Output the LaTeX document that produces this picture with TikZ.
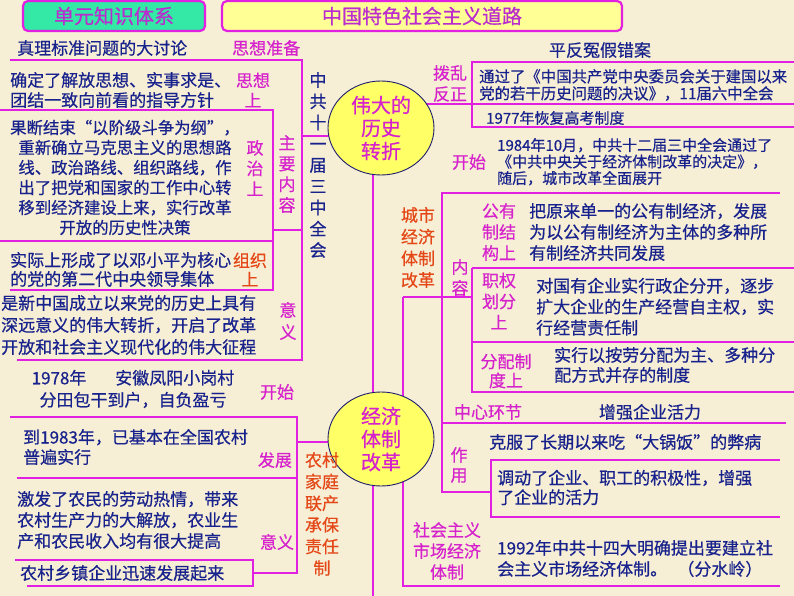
\documentclass[tikz,border=0pt]{standalone}
\usepackage{fontspec}
\setmainfont{Noto Sans CJK SC}[FakeBold=0.5]
\usepackage{tikz}
\usetikzlibrary{shapes.geometric,positioning}
\definecolor{paperbg}{RGB}{247,238,214}
\definecolor{mapline}{RGB}{226,32,226}
\definecolor{tagpink}{RGB}{214,34,204}
\definecolor{headpurple}{RGB}{186,44,206}
\definecolor{bodyblue}{RGB}{24,34,140}
\definecolor{keyorange}{RGB}{228,72,22}
\definecolor{ballyellow}{RGB}{255,255,102}
\definecolor{ballrim}{RGB}{30,30,110}
\definecolor{headgreen}{RGB}{52,232,165}
\definecolor{headyellow}{RGB}{255,255,150}

\begin{document}
\begin{tikzpicture}[x=1pt,y=-1pt,
  brk/.style={draw=mapline,line width=2.6pt},
  body/.style={text=bodyblue,inner sep=0pt,align=left,anchor=west,font=\fontsize{17}{21}\selectfont},
  tag/.style={text=tagpink,inner sep=0pt,align=center,font=\fontsize{17}{21}\selectfont},
  key/.style={text=keyorange,inner sep=0pt,align=center,font=\fontsize{17}{21}\selectfont},
  ball/.style={ellipse,draw=ballrim,line width=0.9pt,fill=ballyellow,minimum width=106pt,
               minimum height=94pt,inner sep=0pt,text=tagpink,align=center,font=\fontsize{20}{23}\selectfont},
  head/.style={draw=mapline,line width=2.2pt,rounded corners=5pt,minimum height=30pt,
               text=headpurple,font=\fontsize{20}{24}\selectfont}]

  \useasboundingbox (0,0) rectangle (794,596);
  \fill[paperbg] (0,0) rectangle (794,596);

  % centres of the two balls
  \coordinate (turnc) at (381,128);
  \coordinate (reformc) at (381,439);
  \coordinate (jL1) at (302,136);
  \coordinate (jL2) at (297,442);
  \coordinate (jR1) at (472,104);
  \coordinate (jR2) at (403,297);

  % spine
  \draw[brk] (373,128) -- (373,596);

  % upper left: 中共十一届三中全会
  \draw[brk] (10,60) -| (302,360) -- (17,360);
  \draw[brk] (jL1) -- (jL1 -| turnc);
  \draw[brk] (0,110) -- (273,110) -- (273,290) -- (10,290);
  \draw[brk] (0,241) -- (273,241);
  \draw[brk] (273,230) -- (302,230);

  % upper right: 拨乱反正
  \draw[brk] (794,62) -- (472,62) -- (472,128);
  \draw[brk] (jR1 -| turnc) -- (jR1) -- (794,104);
  \draw[brk] (472,127) -- (794,127);

  % middle right: 城市经济体制改革
  \draw[brk] (jR2) -- (472,297);
  \draw[brk] (jR2) -- (403,586) -- (780,586);
  \draw[brk] (780,193) -- (442,193) -- (442,492) -- (491,492);
  \draw[brk] (472,268) -- (472,392) -- (794,392);
  \draw[brk] (472,268) -- (794,268);
  \draw[brk] (472,342) -- (794,342);
  \draw[brk] (442,423) -- (786,423);
  \draw[brk] (780,460) -- (491,460) -- (491,517) -- (780,517);

  % lower left: 农村家庭联产承包责任制
  \draw[brk] (10,417) -| (297,573) -- (253,573);
  \draw[brk] (jL2) -- (jL2 -| reformc);
  \draw[brk] (17,478) -- (297,478);
  \draw[brk] (15,560) -- (253,560) -- (253,586) -- (27,586);

  % headers
  \node[head,fill=headgreen,minimum width=182pt] (unit) at (114,16) {单元知识体系};
  \node[head,fill=headyellow,minimum width=400pt] (road) at (422,16) {中国特色社会主义道路};

  % balls
  \node[ball] (turn) at (turnc) {伟大的\\历史\\转折};
  \node[ball] (reform) at (reformc) {经济\\体制\\改革};

  % upper left texts
  \node[body] (truth) at (17,48) {真理标准问题的大讨论};
  \node[tag,anchor=west] (prep) at (232,48) {思想准备};
  \node[body,font=\fontsize{17}{20}\selectfont] (idea) at (10,90) {确定了解放思想、实事求是、\\团结一致向前看的指导方针};
  \node[tag,font=\fontsize{17}{20}\selectfont] (ideatag) at (253,90) {思想\\上};
  \node[body,anchor=center,align=center,font=\fontsize{16.4}{20}\selectfont] (pol) at (125,177.5)
       {果断结束“以阶级斗争为纲”，\\重新确立马克思主义的思想路\\线、政治路线、组织路线，作\\出了把党和国家的工作中心转\\移到经济建设上来，实行改革\\开放的历史性决策};
  \node[tag,font=\fontsize{17}{20.5}\selectfont] (poltag) at (255,168) {政\\治\\上};
  \node[body,font=\fontsize{17}{19}\selectfont] (org) at (10,269.5) {实际上形成了以邓小平为核心\\的党的第二代中央领导集体};
  \node[key,font=\fontsize{17}{19}\selectfont] (orgtag) at (250,269.5) {组织\\上};
  \node[body,font=\fontsize{17}{22}\selectfont] (mean1) at (1,325) {是新中国成立以来党的历史上具有\\深远意义的伟大转折，开启了改革\\开放和社会主义现代化的伟大征程};
  \node[tag,font=\fontsize{17}{22}\selectfont] (mean1tag) at (288,321) {意\\义};
  \node[tag,text=bodyblue,font=\fontsize{17}{21.25}\selectfont] (plenum) at (318,165) {中\\共\\十\\一\\届\\三\\中\\全\\会};
  \node[tag,font=\fontsize{17}{20.7}\selectfont] (main) at (287,174) {主\\要\\内\\容};

  % upper right texts
  \node[body,anchor=center] (redress) at (600,50) {平反冤假错案};
  \node[tag] (order) at (450,83.5) {拨乱\\反正};
  \node[body,font=\fontsize{15.4}{17}\selectfont] (resol) at (479,85) {通过了《中国共产党中央委员会关于建国以来\\党的若干历史问题的决议》，11届六中全会};
  \node[body,font=\fontsize{15}{17}\selectfont] (exam) at (486,118) {1977年恢复高考制度};
  \node[tag] (citystart) at (469,162) {开始};
  \node[body,font=\fontsize{15}{16.5}\selectfont] (decis) at (497,161.7) {1984年10月，中共十二届三中全会通过了\\《中共中央关于经济体制改革的决定》，\\随后，城市改革全面展开};

  % middle right texts
  \node[key,font=\fontsize{17}{21.7}\selectfont] (city) at (418,247.5) {城市\\经济\\体制\\改革};
  \node[tag] (cityin) at (460,277.5) {内\\容};
  \node[tag] (owntag) at (499,232) {公有\\制结\\构上};
  \node[body] (own) at (529,232) {把原来单一的公有制经济，发展\\为以公有制经济为主体的多种所\\有制经济共同发展};
  \node[tag] (powtag) at (499,301) {职权\\划分\\上};
  \node[body] (pow) at (536,306.7) {对国有企业实行政企分开，逐步\\扩大企业的生产经营自主权，实\\行经营责任制};
  \node[tag,font=\fontsize{17}{19}\selectfont] (distag) at (506,371) {分配制\\度上};
  \node[body,font=\fontsize{17}{20}\selectfont] (dis) at (554,365) {实行以按劳分配为主、多种分\\配方式并存的制度};
  \node[tag] (core) at (488,412) {中心环节};
  \node[body,anchor=center] (vigor) at (650,412) {增强企业活力};
  \node[body] (pot) at (489,442) {克服了长期以来吃“大锅饭”的弊病};
  \node[tag,font=\fontsize{17}{20}\selectfont] (use) at (459,465) {作\\用};
  \node[body,font=\fontsize{17}{19.5}\selectfont] (zeal) at (497,487.5) {调动了企业、职工的积极性，增强\\了企业的活力};
  \node[tag] (market) at (447,551) {社会主义\\市场经济\\体制};
  \node[body] (fourteen) at (497,558.5) {1992年中共十四大明确提出要建立社\\会主义市场经济体制。\hspace{0.6em}（分水岭）};

  % lower left texts
  \node[body,anchor=center,align=center,font=\fontsize{17}{22}\selectfont] (xiaogang) at (133,389) {1978年\hspace{1.7em}安徽凤阳小岗村\\分田包干到户，自负盈亏};
  \node[tag] (farmstart) at (277,392) {开始};
  \node[body,font=\fontsize{17}{20}\selectfont] (spread) at (23,447) {到1983年，已基本在全国农村\\普遍实行};
  \node[tag] (grow) at (275,460) {发展};
  \node[body] (mean2) at (17,520) {激发了农民的劳动热情，带来\\农村生产力的大解放，农业生\\产和农民收入均有很大提高};
  \node[tag] (mean2tag) at (277,542) {意义};
  \node[body] (town) at (20,573) {农村乡镇企业迅速发展起来};
  \node[key,font=\fontsize{17}{21.6}\selectfont] (farm) at (322,514) {农村\\家庭\\联产\\承保\\责任\\制};

\end{tikzpicture}
\end{document}
